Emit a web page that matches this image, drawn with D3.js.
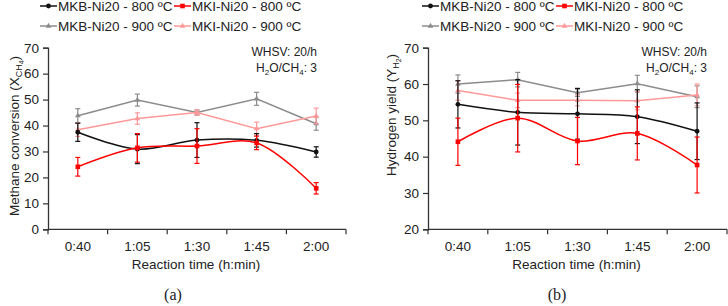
<!DOCTYPE html>
<html>
<head>
<meta charset="utf-8">
<script src="https://cdn.jsdelivr.net/npm/d3@7"></script>
<style>
  body { margin: 0; background: #fff; }
  svg { display: block; font-family: "Liberation Sans", Arial, sans-serif; }
</style>
</head>
<body>
<script>
// categories
var times = ["0:40", "1:05", "1:30", "1:45", "2:00"];
var seriesNames = ["MKB-Ni20 - 800 ºC", "MKI-Ni20 - 800 ºC", "MKB-Ni20 - 900 ºC", "MKI-Ni20 - 900 ºC"];
var seriesColors = ["#111111", "#ff0000", "#8c8c8c", "#ff9999"];
var seriesMarkers = ["circle", "square", "triangle", "triangle"];
var seriesSmooth = [true, true, false, false];

// (a) methane conversion
var convMKB800 = [37.4, 30.9, 34.4, 34.3, 29.8];
var convMKB800err = [3.5, 5.6, 6.7, 2.6, 2.0];
var convMKI800 = [24.1, 31.4, 32.1, 33.3, 15.8];
var convMKI800err = [3.6, 5.5, 6.7, 2.6, 2.2];
var convMKB900 = [43.8, 49.8, 45.0, 50.3, 40.7];
var convMKB900err = [2.7, 2.3, 1.0, 2.5, 2.5];
var convMKI900 = [38.4, 42.7, 45.0, 38.8, 43.7];
var convMKI900err = [2.6, 2.2, 1.0, 2.5, 3.0];

// (b) hydrogen yield
var yieldMKB800 = [54.4, 52.2, 51.8, 51.0, 47.0];
var yieldMKB800err = [6.5, 9.0, 7.0, 7.4, 7.8];
var yieldMKI800 = [44.1, 50.6, 44.3, 46.4, 37.7];
var yieldMKI800err = [6.5, 9.3, 6.5, 7.3, 7.7];
var yieldMKB900 = [60.0, 61.2, 57.6, 60.1, 56.5];
var yieldMKB900err = [2.5, 2.0, 1.0, 2.3, 3.0];
var yieldMKI900 = [58.2, 55.5, 55.5, 55.4, 57.0];
var yieldMKI900err = [2.7, 2.0, 1.5, 2.5, 3.0];

var convTicks = [0, 10, 20, 30, 40, 50, 60, 70];
var yieldTicks = [20, 30, 40, 50, 60, 70];

var svg = d3.select("body").append("svg")
    .attr("width", 728)
    .attr("height", 306);

drawPanel({
    x0: 48, x1: 346, yTop: 47.7, yBottom: 229.3,
    domain: [0, 70], ticks: convTicks,
    values: [convMKB800, convMKI800, convMKB900, convMKI900],
    errors: [convMKB800err, convMKI800err, convMKB900err, convMKI900err],
    ylabel: "Methane conversion (X", sub: "CH", sub2: "4", ylabelX: 14, ylabelY: 136,
    legendX: [40, 174], annoX: 317, caption: "(a)", captionX: 173
});
drawPanel({
    x0: 428, x1: 727, yTop: 47.7, yBottom: 229.3,
    domain: [20, 70], ticks: yieldTicks,
    values: [yieldMKB800, yieldMKI800, yieldMKB900, yieldMKI900],
    errors: [yieldMKB800err, yieldMKI800err, yieldMKB900err, yieldMKI900err],
    ylabel: "Hydrogen yield (Y", sub: "H", sub2: "2", ylabelX: 391, ylabelY: 115,
    legendX: [422, 556], annoX: 707, caption: "(b)", captionX: 557
});

function drawMarker(g, type, cx, cy, color) {
    if (type == "circle") {
        g.append("circle").attr("cx", cx).attr("cy", cy).attr("r", 2.4).attr("fill", color);
    } else if (type == "square") {
        g.append("rect").attr("x", cx - 2.3).attr("y", cy - 2.3)
            .attr("width", 4.6).attr("height", 4.6).attr("fill", color);
    } else {
        g.append("path").attr("d", d3.symbol().type(d3.symbolTriangle).size(14)())
            .attr("transform", "translate(" + cx + "," + cy + ")").attr("fill", color);
    }
}

function drawPanel(p) {
    var g = svg.append("g");
    var x = d3.scaleBand().domain(times).range([p.x0, p.x1]);
    var y = d3.scaleLinear().domain(p.domain).range([p.yBottom, p.yTop]);

    // y axis
    var yAxis = g.append("g")
        .attr("transform", "translate(" + p.x0 + ",0)")
        .call(d3.axisLeft(y).tickValues(p.ticks).tickSize(5).tickPadding(4));
    yAxis.select(".domain").attr("stroke", "#333").attr("stroke-width", 1.3);
    yAxis.selectAll(".tick line").attr("stroke", "#333").attr("stroke-width", 1.2);
    yAxis.selectAll("text").attr("font-size", "13.5px").attr("fill", "#222")
        .attr("font-family", "Liberation Sans, Arial, sans-serif");

    // x axis: ticks at band boundaries, labels at centres
    var xAxisG = g.append("g").attr("transform", "translate(0," + p.yBottom + ")");
    xAxisG.append("line").attr("x1", p.x0).attr("x2", p.x1)
        .attr("stroke", "#333").attr("stroke-width", 1.3);
    var bounds = times.map(function(t){ return x(t); }).concat([p.x1]);
    xAxisG.selectAll(".bt").data(bounds).enter().append("line")
        .attr("x1", function(d){ return d; }).attr("x2", function(d){ return d; })
        .attr("y1", 0).attr("y2", 5)
        .attr("stroke", "#333").attr("stroke-width", 1.2);
    xAxisG.selectAll(".xl").data(times).enter().append("text")
        .attr("x", function(d){ return x(d) + x.bandwidth() / 2; })
        .attr("y", 22)
        .attr("text-anchor", "middle")
        .attr("font-size", "13.5px").attr("fill", "#222")
        .text(function(d){ return d; });
    g.append("text")
        .attr("x", (p.x0 + p.x1) / 2 - 1).attr("y", 269)
        .attr("text-anchor", "middle").attr("font-size", "13.5px").attr("fill", "#222")
        .text("Reaction time (h:min)");

    // y label with subscript
    var yl = g.append("text")
        .attr("transform", "translate(" + p.ylabelX + "," + p.ylabelY + ") rotate(-90)")
        .attr("text-anchor", "middle").attr("dy", "0.35em")
        .attr("font-size", "13.5px").attr("fill", "#222");
    yl.append("tspan").text(p.ylabel);
    yl.append("tspan").attr("font-size", "9px").attr("dy", 3).text(p.sub);
    yl.append("tspan").attr("font-size", "7px").attr("dy", 2).text(p.sub2);
    yl.append("tspan").attr("dy", -5).text(")");

    // annotation
    g.append("text").attr("x", p.annoX).attr("y", 56).attr("text-anchor", "end")
        .attr("font-size", "12px").attr("fill", "#222").text("WHSV: 20/h");
    var an = g.append("text").attr("x", p.annoX).attr("y", 72).attr("text-anchor", "end")
        .attr("font-size", "12px").attr("fill", "#222");
    an.append("tspan").text("H");
    an.append("tspan").attr("font-size", "8px").attr("dy", 3).text("2");
    an.append("tspan").attr("dy", -3).text("O/CH");
    an.append("tspan").attr("font-size", "8px").attr("dy", 3).text("4");
    an.append("tspan").attr("dy", -3).text(": 3");

    // series, 900 °C first so 800 °C sits on top
    var order = [2, 3, 0, 1];
    order.forEach(function(s){
        var color = seriesColors[s];
        var vals = p.values[s], errs = p.errors[s];
        var pts = vals.map(function(v, i){ return [x(times[i]) + x.bandwidth() / 2, y(v)]; });
        var line = d3.line().curve(seriesSmooth[s] ? d3.curveCatmullRom.alpha(0.5) : d3.curveLinear);
        var sg = g.append("g");
        sg.append("path").attr("d", line(pts)).attr("fill", "none")
            .attr("stroke", color).attr("stroke-width", 1.5);
        vals.forEach(function(v, i){
            var cx = pts[i][0];
            var yHi = y(v + errs[i]), yLo = y(v - errs[i]);
            sg.append("line").attr("x1", cx).attr("x2", cx).attr("y1", yHi).attr("y2", yLo)
                .attr("stroke", color).attr("stroke-width", 1.2);
            [yHi, yLo].forEach(function(yy){
                sg.append("line").attr("x1", cx - 2.5).attr("x2", cx + 2.5).attr("y1", yy).attr("y2", yy)
                    .attr("stroke", color).attr("stroke-width", 1.2);
            });
            drawMarker(sg, seriesMarkers[s], cx, pts[i][1], color);
        });
    });

    // legend, two rows of two
    seriesNames.forEach(function(name, s){
        var lx = p.legendX[s % 2];
        var ly = s < 2 ? 6 : 26;
        var lg = g.append("g");
        lg.append("line").attr("x1", lx).attr("x2", lx + 17).attr("y1", ly).attr("y2", ly)
            .attr("stroke", seriesColors[s]).attr("stroke-width", 1.5);
        drawMarker(lg, seriesMarkers[s], lx + 8.5, ly, seriesColors[s]);
        lg.append("text").attr("x", lx + 18).attr("y", ly).attr("dy", "0.35em")
            .attr("font-size", "13.5px").attr("fill", "#222").text(name);
    });

    // caption
    g.append("text").attr("x", p.captionX).attr("y", 300).attr("text-anchor", "middle")
        .attr("font-family", "Liberation Serif, DejaVu Serif, serif")
        .attr("font-size", "16px").attr("fill", "#222").text(p.caption);
}
</script>
</body>
</html>
